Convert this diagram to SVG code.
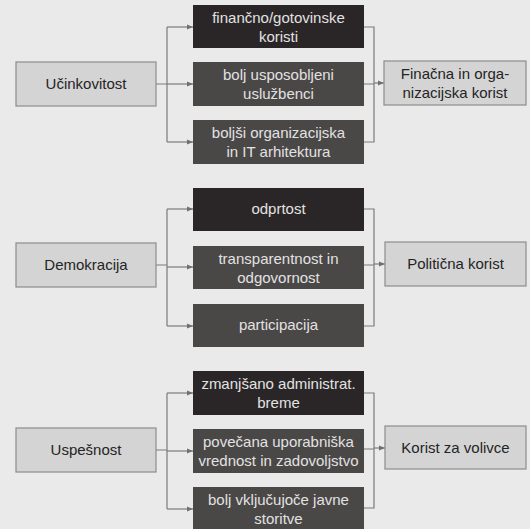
<svg xmlns="http://www.w3.org/2000/svg" width="530" height="529" viewBox="0 0 530 529">
<defs>
<marker id="ah" viewBox="0 0 6 6" refX="6" refY="3" markerWidth="6" markerHeight="6" markerUnits="userSpaceOnUse" orient="auto">
<path d="M0,0.5 L6,3 L0,5.5 Z" fill="#707070"/>
</marker>
<style>
.lt{fill:#d4d4d4;stroke:#8c8c8c;stroke-width:1.2}
.d1{fill:#2a2627}
.d2{fill:#4a4747}
.tl{font-family:"Liberation Sans",Arial,sans-serif;font-size:15px;fill:#242424;text-anchor:middle}
.td{font-family:"Liberation Sans",Arial,sans-serif;font-size:15px;fill:#e2e2e2;text-anchor:middle}
.c{fill:none;stroke:#7a7a7a;stroke-width:1.2}
.a{fill:none;stroke:#7a7a7a;stroke-width:1.2;marker-end:url(#ah)}
</style>
</defs>
<rect width="530" height="529" fill="#eaeaea"/>
<g id="connectors">
<path class="c" d="M156,84 H167 M167,27 V142"/>
<path class="a" d="M167,27 H193"/>
<path class="a" d="M167,84 H193"/>
<path class="a" d="M167,142 H193"/>
<path class="c" d="M364,27 H374 V142 H364 M364,84 H374"/>
<path class="a" d="M374,83 H384"/>
<path class="c" d="M156,265 H167 M167,209 V326"/>
<path class="a" d="M167,209 H193"/>
<path class="a" d="M167,267 H193"/>
<path class="a" d="M167,326 H193"/>
<path class="c" d="M364,209 H374 V326 H364 M364,265 H374"/>
<path class="a" d="M374,264 H385"/>
<path class="c" d="M156,450 H167 M167,393 V509"/>
<path class="a" d="M167,393 H193"/>
<path class="a" d="M167,451 H193"/>
<path class="a" d="M167,509 H193"/>
<path class="c" d="M364,393 H374 V508 H364 M364,449 H374"/>
<path class="a" d="M374,448 H385"/>
</g>
<g id="n-ucinkovitost"><rect class="lt" x="16" y="62" width="140" height="44"/><text class="tl" x="86" y="89">Učinkovitost</text></g>
<g id="n-financne"><rect class="d1" x="193" y="5" width="171" height="43"/><text class="td" x="278.5" y="23">finančno/gotovinske</text><text class="td" x="278.5" y="42">koristi</text></g>
<g id="n-usposobljeni"><rect class="d2" x="193" y="62" width="171" height="44"/><text class="td" x="278.5" y="80">bolj usposobljeni</text><text class="td" x="278.5" y="99">uslužbenci</text></g>
<g id="n-arhitektura"><rect class="d2" x="193" y="120" width="171" height="44"/><text class="td" x="278.5" y="138">boljši organizacijska</text><text class="td" x="278.5" y="157">in IT arhitektura</text></g>
<g id="n-financna-korist"><rect class="lt" x="384" y="61" width="142" height="44"/><text class="tl" x="455" y="79">Finačna in orga-</text><text class="tl" x="455" y="98">nizacijska korist</text></g>

<g id="n-demokracija"><rect class="lt" x="16" y="243" width="140" height="44"/><text class="tl" x="86" y="270">Demokracija</text></g>
<g id="n-odprtost"><rect class="d1" x="193" y="188" width="171" height="43"/><text class="td" x="278.5" y="214">odprtost</text></g>
<g id="n-transparentnost"><rect class="d2" x="193" y="246" width="171" height="43"/><text class="td" x="278.5" y="264">transparentnost in</text><text class="td" x="278.5" y="283">odgovornost</text></g>
<g id="n-participacija"><rect class="d2" x="193" y="304" width="171" height="43"/><text class="td" x="278.5" y="330">participacija</text></g>
<g id="n-politicna"><rect class="lt" x="385" y="242" width="141" height="44"/><text class="tl" x="455.5" y="269">Politična korist</text></g>

<g id="n-uspesnost"><rect class="lt" x="16" y="428" width="140" height="44"/><text class="tl" x="86" y="455">Uspešnost</text></g>
<g id="n-breme"><rect class="d1" x="193" y="371" width="171" height="44"/><text class="td" x="278.5" y="389">zmanjšano administrat.</text><text class="td" x="278.5" y="408">breme</text></g>
<g id="n-vrednost"><rect class="d2" x="193" y="429" width="171" height="44"/><text class="td" x="278.5" y="447">povečana uporabniška</text><text class="td" x="278.5" y="466">vrednost in zadovoljstvo</text></g>
<g id="n-storitve"><rect class="d2" x="193" y="487" width="171" height="44"/><text class="td" x="278.5" y="505">bolj vključujoče javne</text><text class="td" x="278.5" y="524">storitve</text></g>
<g id="n-volivce"><rect class="lt" x="385" y="426" width="141" height="43"/><text class="tl" x="455.5" y="453">Korist za volivce</text></g>
</svg>
